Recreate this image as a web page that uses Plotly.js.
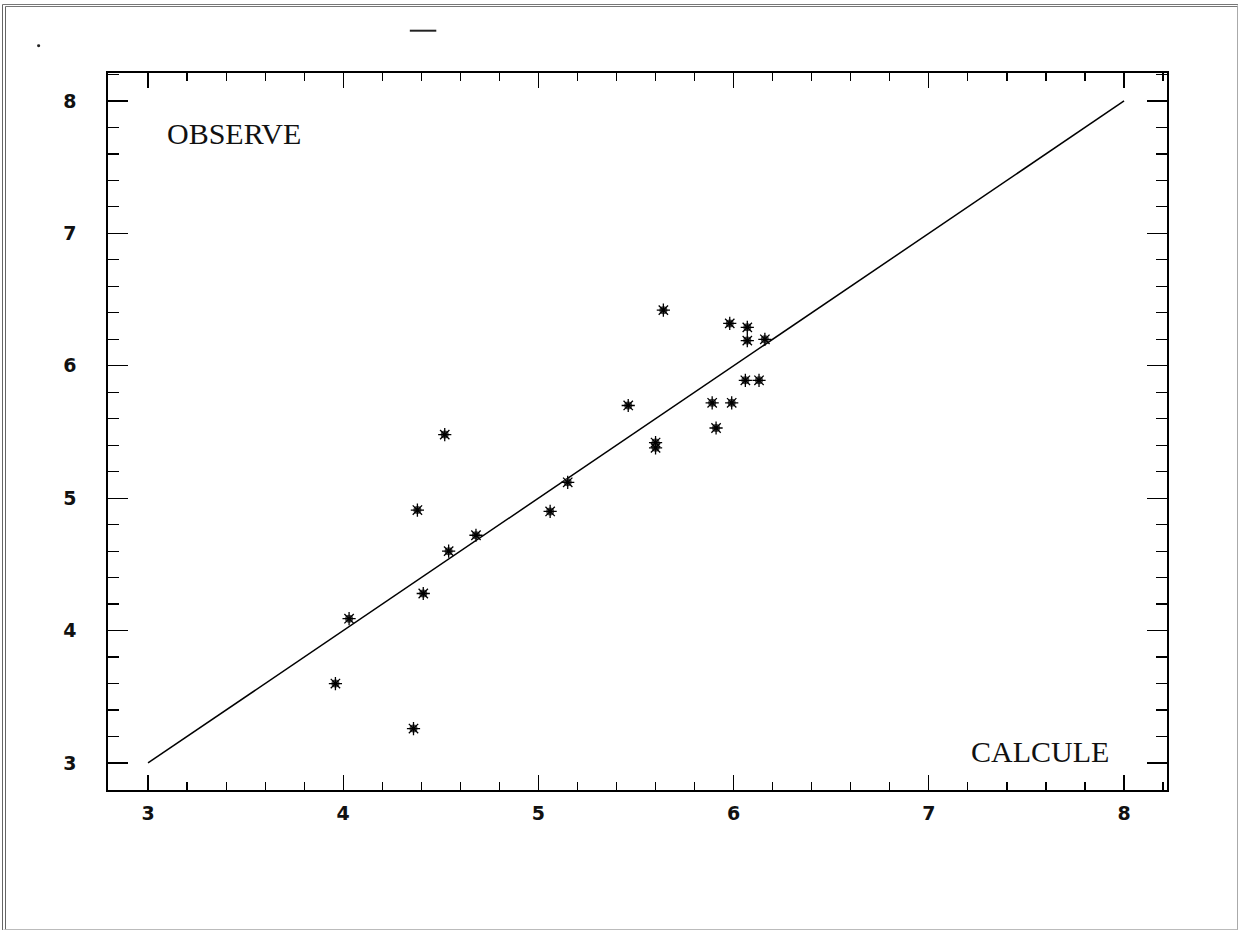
<!DOCTYPE html>
<html>
<head>
<meta charset="utf-8">
<script src="https://cdn.plot.ly/plotly-3.0.1.min.js"></script>
<style>
  html, body { margin: 0; padding: 0; background: #ffffff; }
  #wrap { position: relative; width: 1239px; height: 932px; }
  #chart { position: absolute; left: 0; top: 0; width: 1239px; height: 932px; }
  #frame { position: absolute; left: 2px; top: 4px; width: 1231px; height: 922px;
           border-top: 3px double #777; border-left: 4px double #666;
           border-right: 1px solid #aaa; border-bottom: 1px solid #bbb; pointer-events: none; }
</style>
</head>
<body>
<div id="wrap">
  <div id="chart"></div>
  <div id="frame"></div>
</div>
<script>
const calcule = [3.96, 4.03, 4.36, 4.38, 4.41, 4.52, 4.54, 4.68, 5.06, 5.15, 5.46, 5.60, 5.60, 5.64, 5.89, 5.91, 5.98, 5.99, 6.07, 6.07, 6.06, 6.13, 6.16];
const observe = [3.60, 4.09, 3.26, 4.91, 4.28, 5.48, 4.60, 4.72, 4.90, 5.12, 5.70, 5.42, 5.38, 6.42, 5.72, 5.53, 6.32, 5.72, 6.29, 6.19, 5.89, 5.89, 6.20];
// identity line (y = x)
const lineX = [3, 8];
const lineY = [3, 8];
const tickVals = [3, 4, 5, 6, 7, 8];
const tickText = ['3', '4', '5', '6', '7', '8'];

const tickFont = { family: 'DejaVu Sans, Arial, sans-serif', size: 19, color: '#111', weight: 'bold' };

const traces = [
  { x: lineX, y: lineY, mode: 'lines', type: 'scatter',
    line: { color: '#000', width: 1.5 }, hoverinfo: 'skip', showlegend: false },
  { x: calcule, y: observe, mode: 'markers', type: 'scatter',
    marker: { symbol: 'circle', size: 8, color: '#4a4a4a' }, showlegend: false },
  { x: calcule, y: observe, mode: 'markers', type: 'scatter',
    marker: { symbol: 'asterisk-open', size: 11, color: '#000', line: { color: '#1a1a1a', width: 1.3 } }, showlegend: false }
];

const layout = {
  width: 1239, height: 932,
  paper_bgcolor: '#ffffff', plot_bgcolor: '#ffffff',
  margin: { l: 108, r: 72, t: 73, b: 142 },
  showlegend: false,
  xaxis: {
    range: [2.795, 8.22], tickmode: 'array', tickvals: tickVals, ticktext: tickText,
    ticks: 'inside', ticklen: 15, tickwidth: 1.3, tickcolor: '#000',
    minor: { dtick: 0.2, tick0: 3, ticks: 'inside', ticklen: 8, tickwidth: 1.2, tickcolor: '#000', showgrid: false },
    showline: true, linecolor: '#000', linewidth: 1.6, mirror: 'ticks',
    showgrid: false, zeroline: false, tickfont: tickFont, ticklabelstandoff: 6
  },
  yaxis: {
    range: [2.796, 8.211], tickmode: 'array', tickvals: tickVals, ticktext: tickText,
    ticks: 'inside', ticklen: 20, tickwidth: 1.3, tickcolor: '#000',
    minor: { dtick: 0.2, tick0: 3, ticks: 'inside', ticklen: 11, tickwidth: 1.2, tickcolor: '#000', showgrid: false },
    showline: true, linecolor: '#000', linewidth: 1.6, mirror: 'ticks',
    showgrid: false, zeroline: false, tickfont: tickFont, ticklabelstandoff: 26
  },
  annotations: [
    { text: 'OBSERVE', xref: 'paper', yref: 'paper', x: 0.054, y: 0.916, xanchor: 'left', yanchor: 'middle',
      showarrow: false, font: { family: 'Liberation Serif, Times New Roman, serif', size: 30, color: '#111' } },
    { text: 'CALCULE', xref: 'paper', yref: 'paper', x: 0.947, y: 0.053, xanchor: 'right', yanchor: 'middle',
      showarrow: false, font: { family: 'Liberation Serif, Times New Roman, serif', size: 30, color: '#111' } }
  ],
  shapes: [
    { type: 'line', xref: 'paper', yref: 'paper', x0: 0.285, x1: 0.31, y0: 1.059, y1: 1.059,
      line: { color: '#222', width: 2 } },
    { type: 'circle', xref: 'paper', yref: 'paper', x0: -0.067, x1: -0.064, y0: 1.036, y1: 1.040,
      fillcolor: '#222', line: { width: 0 } }
  ]
};

Plotly.newPlot('chart', traces, layout, { staticPlot: true, displayModeBar: false });
</script>
</body>
</html>
